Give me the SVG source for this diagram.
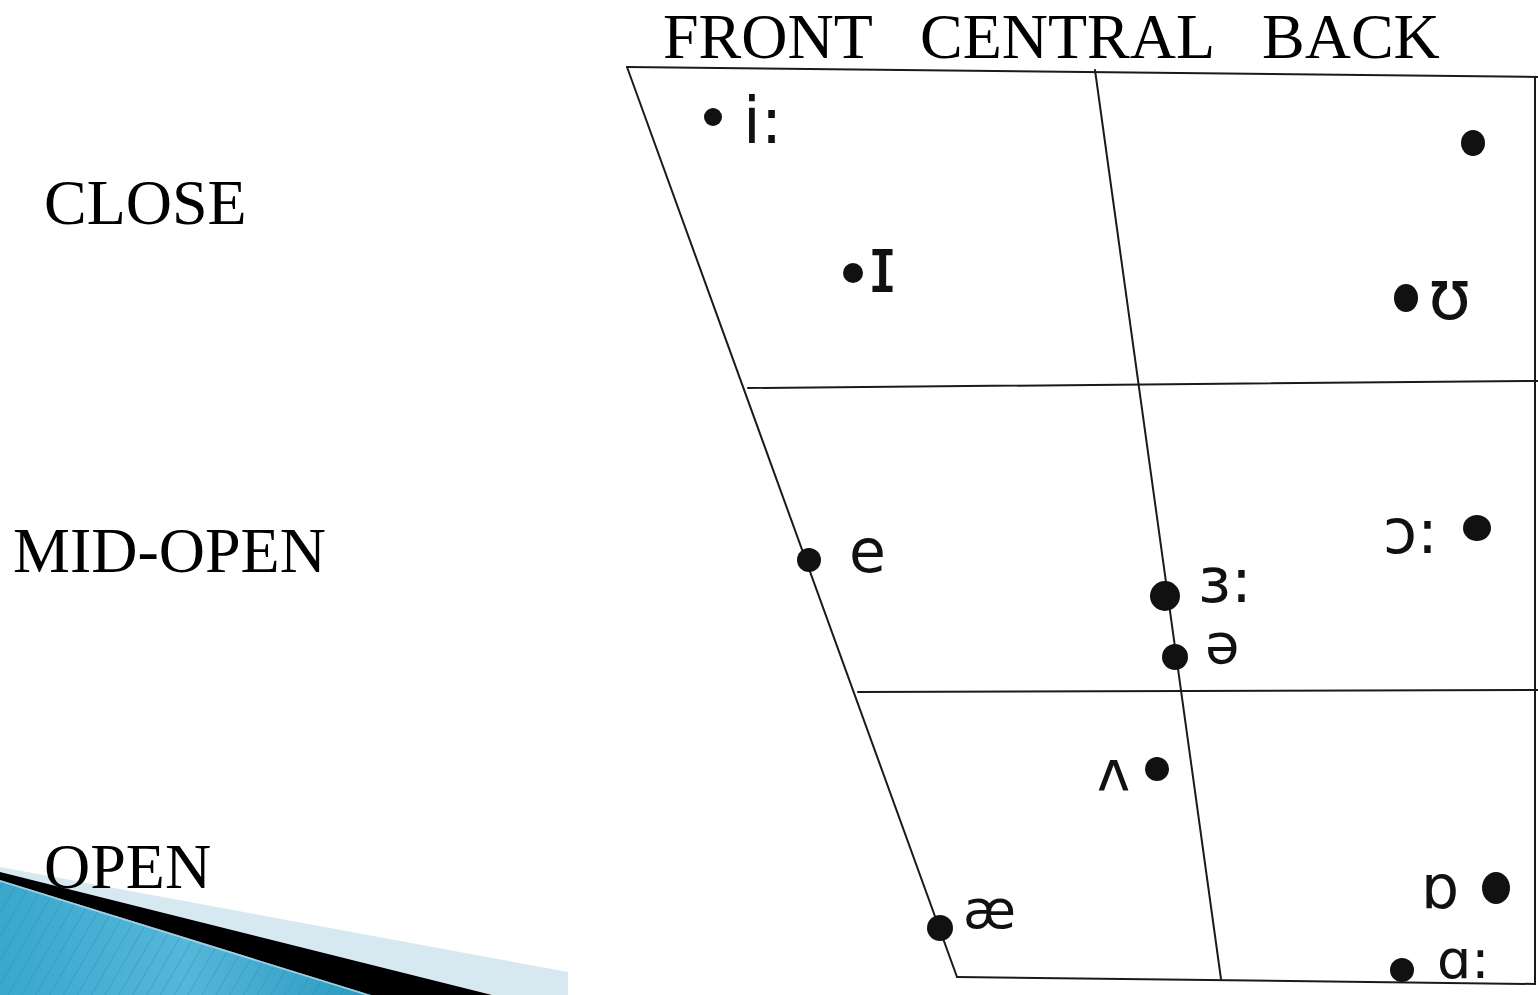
<svg xmlns="http://www.w3.org/2000/svg" width="1538" height="995" viewBox="0 0 1538 995">
<defs>
<style>
.hdr{font-family:"Liberation Serif","Times New Roman",serif;font-size:64px;fill:#000}
.ipa{font-family:"DejaVu Sans","Noto Sans",sans-serif;fill:#111}
.ln{stroke:#1a1a1a;stroke-width:2;fill:none;stroke-linecap:round}
.dot{fill:#111}
</style>
<linearGradient id="blue" x1="0" y1="0" x2="1" y2="0">
<stop offset="0" stop-color="#3aa7cc"/>
<stop offset="0.5" stop-color="#55b7da"/>
<stop offset="1" stop-color="#2b99bf"/>
</linearGradient>
<pattern id="stripes" width="12" height="12" patternUnits="userSpaceOnUse" patternTransform="rotate(30)">
<rect width="12" height="12" fill="none"/>
<line x1="0" y1="0" x2="0" y2="12" stroke="#2a8fb4" stroke-width="2" stroke-opacity="0.45"/>
</pattern>
</defs>
<rect width="1538" height="995" fill="#fff"/>

<g id="decoration">
<polygon points="0,867 568,972 568,995 492,995 0,872" fill="#d6e9f1"/>
<polygon points="0,880 371,995 0,995" fill="url(#blue)"/>
<polygon points="0,880 371,995 0,995" fill="url(#stripes)"/>
<polygon points="0,872 492,995 371,995 0,880" fill="#000"/>
<line x1="0" y1="881" x2="371" y2="996" stroke="#9fd3e8" stroke-width="1.5"/>
</g>

<g id="labels">
<text class="hdr" x="663" y="58">FRONT</text>
<text class="hdr" x="920" y="58">CENTRAL</text>
<text class="hdr" x="1262" y="58">BACK</text>
<text class="hdr" x="44" y="224">CLOSE</text>
<text class="hdr" x="13" y="572">MID-OPEN</text>
<text class="hdr" x="44" y="888">OPEN</text>
</g>

<g id="chart">
<line class="ln" x1="627" y1="67" x2="1538" y2="77"/>
<line class="ln" x1="627" y1="67" x2="957" y2="977"/>
<line class="ln" x1="1095" y1="70" x2="1221" y2="979"/>
<line class="ln" x1="1535" y1="77" x2="1535" y2="984"/>
<line class="ln" x1="957" y1="977" x2="1535" y2="984"/>
<line class="ln" x1="748" y1="388" x2="1538" y2="381"/>
<line class="ln" x1="858" y1="692" x2="1538" y2="690"/>
</g>

<g id="v-i"><circle class="dot" cx="713" cy="117" r="9"/><text class="ipa" x="743" y="143" font-size="64">i:</text></g>
<g id="v-u"><ellipse class="dot" cx="1473" cy="143" rx="12" ry="13"/></g>
<g id="v-I"><circle class="dot" cx="853" cy="273" r="10"/><text class="ipa" x="868" y="292" font-size="78">ɪ</text></g>
<g id="v-U"><ellipse class="dot" cx="1406" cy="298" rx="12" ry="14"/><text class="ipa" x="1428" y="319" font-size="70">ʊ</text></g>
<g id="v-e"><circle class="dot" cx="809" cy="560" r="12"/><text class="ipa" x="849" y="572" font-size="60">e</text></g>
<g id="v-3"><circle class="dot" cx="1165" cy="596" r="15"/><text class="ipa" x="1198" y="602" font-size="62">ɜ:</text></g>
<g id="v-schwa"><circle class="dot" cx="1175" cy="657" r="13"/><text class="ipa" x="1205" y="663" font-size="56">ə</text></g>
<g id="v-o"><ellipse class="dot" cx="1477" cy="528" rx="14" ry="13"/><text class="ipa" x="1383" y="553" font-size="62">ɔ:</text></g>
<g id="v-V"><circle class="dot" cx="1157" cy="769" r="12"/><text class="ipa" x="1097" y="790" font-size="56">ʌ</text></g>
<g id="v-ae"><circle class="dot" cx="940" cy="928" r="13"/><text class="ipa" x="963" y="928" font-size="54">æ</text></g>
<g id="v-Q"><ellipse class="dot" cx="1496" cy="888" rx="14" ry="16"/><text class="ipa" x="1421" y="908" font-size="60">ɒ</text></g>
<g id="v-A"><circle class="dot" cx="1402" cy="970" r="12"/><text class="ipa" x="1437" y="978" font-size="54">ɑ:</text></g>
</svg>
